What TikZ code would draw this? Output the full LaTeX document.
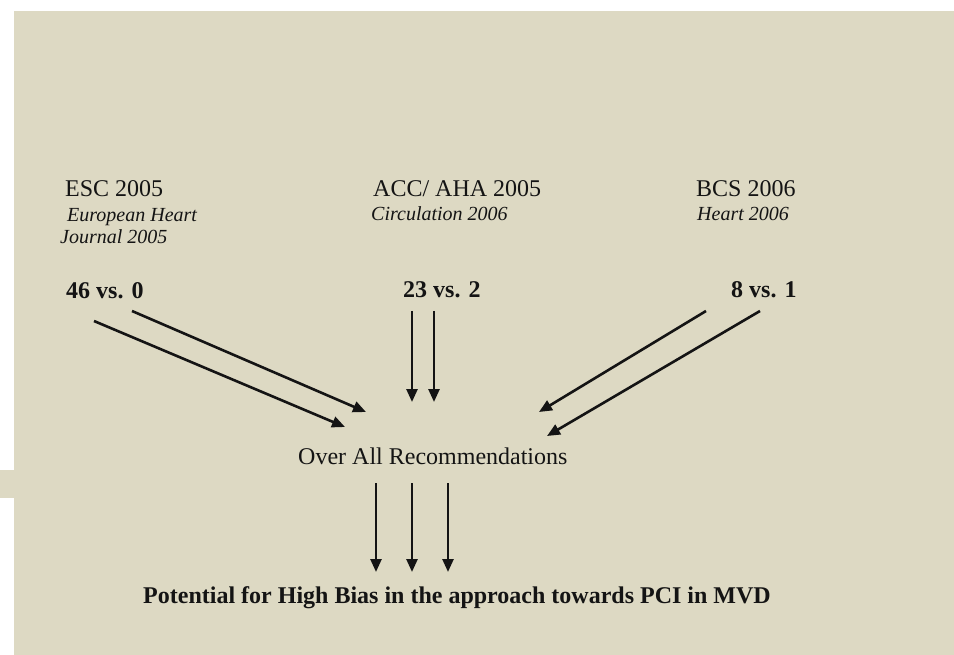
\documentclass[tikz,border=0pt]{standalone}
\usepackage{fontspec}
\setmainfont{Liberation Serif}
\usetikzlibrary{arrows.meta}
\definecolor{beige}{RGB}{221,217,195}
\definecolor{ink}{RGB}{20,20,20}
\begin{document}
\begin{tikzpicture}[x=1pt,y=-1pt,
  lbl/.style={anchor=base west,inner sep=0pt,text=ink,font=\fontsize{24}{28}\selectfont},
  sub/.style={anchor=base west,inner sep=0pt,text=ink,font=\fontsize{20}{24}\selectfont\itshape},
  num/.style={anchor=base west,inner sep=0pt,text=ink,font=\fontsize{24}{28}\selectfont\bfseries},
  arr/.style={line width=2.6pt,draw=ink,-{Triangle[length=13pt,width=11pt]}}]
\useasboundingbox (0,0) rectangle (954,655);
\fill[white] (0,0) rectangle (954,655);
\fill[beige] (14,11) rectangle (954,655);
\fill[beige] (0,470) rectangle (14,498);

\node[lbl] (esc) at (65,197) {ESC 2005};
\node[sub] (ehj) at (67,222) {European Heart};
\node[sub] (jour) at (60,244) {Journal 2005};
\node[lbl] (acc) at (373,197) {ACC/ AHA 2005};
\node[sub] (circ) at (371,221) {Circulation 2006};
\node[lbl] (bcs) at (696,197) {BCS 2006};
\node[sub] (heart) at (697,221) {Heart 2006};

\node[num] (n46) at (66,299) {46 vs. 0};
\node[num] (n23) at (403,298) {23 vs. 2};
\node[num] (n8) at (731,298) {8 vs. 1};

\node[lbl] (over) at (298,464) {Over All Recommendations};
\node[num] (pot) at (143,603) {Potential for High Bias in the approach towards PCI in MVD};

\coordinate (l1s) at (94,321);  \coordinate (l1e) at (345,427);
\coordinate (l2s) at (132,311); \coordinate (l2e) at (366,412);
\coordinate (m1s) at (412,311); \coordinate (m1e) at (412,402);
\coordinate (m2s) at (434,311); \coordinate (m2e) at (434,402);
\coordinate (r1s) at (706,311); \coordinate (r1e) at (539,412);
\coordinate (r2s) at (760,311); \coordinate (r2e) at (547,436);
\coordinate (b1s) at (376,483); \coordinate (b1e) at (376,572);
\coordinate (b2s) at (412,483); \coordinate (b2e) at (412,572);
\coordinate (b3s) at (448,483); \coordinate (b3e) at (448,572);

\draw[arr] (l1s) -- (l1e);
\draw[arr] (l2s) -- (l2e);
\draw[arr] (m1s) -- (m1e);
\draw[arr] (m2s) -- (m2e);
\draw[arr] (r1s) -- (r1e);
\draw[arr] (r2s) -- (r2e);
\draw[arr] (b1s) -- (b1e);
\draw[arr] (b2s) -- (b2e);
\draw[arr] (b3s) -- (b3e);
\end{tikzpicture}
\end{document}
